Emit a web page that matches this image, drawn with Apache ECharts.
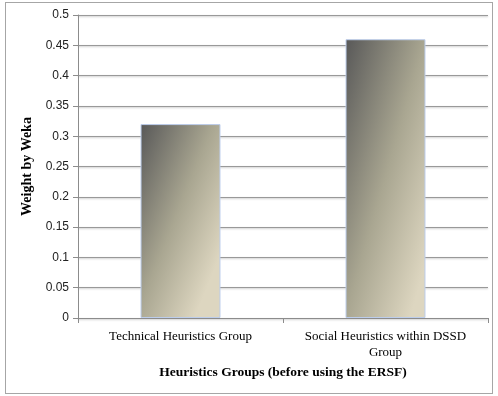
<!DOCTYPE html>
<html>
<head>
<meta charset="utf-8">
<script src="https://cdn.jsdelivr.net/npm/echarts@6/dist/echarts.min.js"></script>
<style>
  html, body { margin: 0; padding: 0; background: #fff; }
  #frame { position: absolute; left: 5px; top: 2px; width: 486px; height: 390px; border: 1px solid #a6a6a6; }
  #chart { position: absolute; left: 0; top: 0; width: 498px; height: 396px; }
</style>
</head>
<body>
<div id="frame"></div>
<div id="chart"></div>
<script>
// 分类与数值
const categories = ['Technical Heuristics Group', 'Social Heuristics within DSSD\nGroup'];
const weights = [0.32, 0.46];
const yTicks = [0, 0.05, 0.1, 0.15, 0.2, 0.25, 0.3, 0.35, 0.4, 0.45, 0.5];

const chart = echarts.init(document.getElementById('chart'));

// 渐变填充：左上深灰 -> 右下米色（两根柱子高度不同，方向分别微调）
const gradientEnds = [[1.43, 0.24], [1.68, 0.14]];
const barFill = (i) =>
  new echarts.graphic.LinearGradient(0, 0, gradientEnds[i][0], gradientEnds[i][1], [
    { offset: 0, color: '#585858' },
    { offset: 0.55, color: '#a9a691' },
    { offset: 1, color: '#ddd6c0' },
  ]);

chart.setOption({
  animation: false,
  grid: {
    left: 78,
    right: 10,
    top: 15,
    bottom: 78,
  },
  xAxis: {
    type: 'category',
    data: categories,
    name: 'Heuristics Groups (before using the ERSF)',
    nameLocation: 'middle',
    nameGap: 47,
    nameTextStyle: {
      fontFamily: 'Liberation Serif',
      fontWeight: 'bold',
      fontSize: 13.5,
      color: '#000',
    },
    axisLine: { lineStyle: { color: '#8c8c8c' } },
    axisTick: { show: true, length: 5, lineStyle: { color: '#8c8c8c' } },
    axisLabel: {
      interval: 0,
      hideOverlap: false,
      fontFamily: 'Liberation Serif',
      fontSize: 13,
      color: '#000',
      margin: 11,
      lineHeight: 16,
    },
  },
  yAxis: {
    type: 'value',
    min: 0,
    max: 0.5,
    interval: 0.05,
    name: 'Weight by Weka',
    nameLocation: 'middle',
    nameGap: 43,
    nameTextStyle: {
      fontFamily: 'Liberation Serif',
      fontWeight: 'bold',
      fontSize: 14,
      color: '#000',
    },
    axisLine: { show: true, lineStyle: { color: '#8c8c8c' } },
    axisTick: { show: true, length: 5, lineStyle: { color: '#8c8c8c' } },
    axisLabel: {
      fontFamily: 'Liberation Sans',
      fontSize: 12,
      color: '#222',
      margin: 9,
      formatter: (v) => (yTicks.includes(+v.toFixed(2)) ? String(+v.toFixed(2)) : ''),
    },
    splitLine: {
      lineStyle: {
        color: '#999',
        width: 1,
        shadowColor: 'rgba(0,0,0,0.25)',
        shadowBlur: 2,
        shadowOffsetY: 1,
      },
    },
  },
  series: [
    {
      type: 'bar',
      data: weights.map((v, i) => ({ value: v, itemStyle: { color: barFill(i) } })),
      barWidth: '39%',
      itemStyle: {
        borderColor: '#bccdeb',
        borderWidth: 1,
      },
    },
  ],
});
</script>
</body>
</html>
